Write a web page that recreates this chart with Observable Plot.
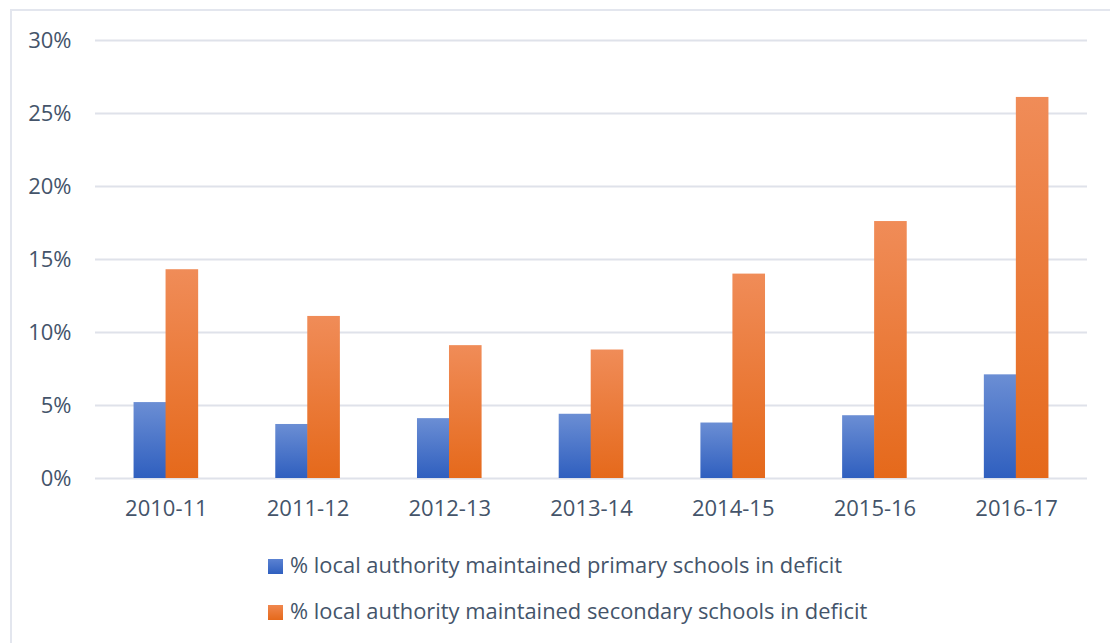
<!DOCTYPE html>
<html>
<head>
<meta charset="utf-8">
<script src="https://cdn.jsdelivr.net/npm/d3@7"></script>
<script src="https://cdn.jsdelivr.net/npm/@observablehq/plot@0.6"></script>
<style>
  html, body { margin: 0; padding: 0; background: #fff; }
  body { width: 1110px; height: 643px; overflow: hidden; position: relative; font-family: "Open Sans", Lato, sans-serif; color: #44546a; }
  #frame { position: absolute; left: 10px; top: 9px; width: 1200px; height: 700px; border: 2px solid #e3e6ee; box-sizing: border-box; }
  #chart { position: absolute; left: 0; top: 0; }
  #legend { position: absolute; left: 268px; top: 542px; font-size: 21.9px; line-height: 46px; }
  .item { display: flex; align-items: center; white-space: nowrap; }
  .sw { width: 15px; height: 15px; margin-right: 7px; margin-top: 3px; }
</style>
</head>
<body>
<div id="frame"></div>
<div id="chart"></div>
<div id="legend"></div>
<script>
const years = ["2010-11", "2011-12", "2012-13", "2013-14", "2014-15", "2015-16", "2016-17"];
const primary = [5.2, 3.7, 4.1, 4.4, 3.8, 4.3, 7.1];
const secondary = [14.3, 11.1, 9.1, 8.8, 14.0, 17.6, 26.1];
const seriesNames = [
  "% local authority maintained primary schools in deficit",
  "% local authority maintained secondary schools in deficit"
];
const yTicks = [0, 5, 10, 15, 20, 25, 30];

const dataP = years.map((y, i) => ({year: y, value: primary[i]}));
const dataS = years.map((y, i) => ({year: y, value: secondary[i]}));

const W = 1110, ML = 95, MR = 23;
const step = (W - ML - MR) / years.length;
const barW = 32;
const inset = (step - barW) / 2 - 0.3;

const chart = Plot.plot({
  width: W,
  height: 530,
  marginTop: 40,
  marginBottom: 52,
  marginLeft: ML,
  marginRight: MR,
  style: {fontFamily: "'Open Sans', Lato, sans-serif", fontSize: "22px", color: "#44546a", background: "transparent"},
  x: {domain: years, padding: 0, round: false, label: null, tickSize: 0, tickPadding: 22},
  y: {domain: [0, 30], ticks: yTicks, tickFormat: d => d + "%", label: null, tickSize: 0, tickPadding: 24},
  marks: [
    Plot.gridY(yTicks, {stroke: "#dfe2ea", strokeOpacity: 1, strokeWidth: 2}),
    Plot.barY(dataP, {x: "year", y: "value", fill: "url(#gradBlue)", insetLeft: inset, insetRight: inset, dx: -barW / 2}),
    Plot.barY(dataS, {x: "year", y: "value", fill: "url(#gradOrange)", insetLeft: inset, insetRight: inset, dx: barW / 2})
  ]
});

// gradient definitions for the bars
const ns = "http://www.w3.org/2000/svg";
const defs = document.createElementNS(ns, "defs");
function grad(id, top, bottom) {
  const g = document.createElementNS(ns, "linearGradient");
  g.setAttribute("id", id);
  g.setAttribute("x1", "0"); g.setAttribute("y1", "0");
  g.setAttribute("x2", "0"); g.setAttribute("y2", "1");
  [[0, top], [1, bottom]].forEach(([o, c]) => {
    const s = document.createElementNS(ns, "stop");
    s.setAttribute("offset", o);
    s.setAttribute("stop-color", c);
    g.appendChild(s);
  });
  defs.appendChild(g);
}
grad("gradBlue", "#6b8ed4", "#2f5fbf");
grad("gradOrange", "#f08c58", "#e5691b");
chart.insertBefore(defs, chart.firstChild);
document.getElementById("chart").appendChild(chart);

const legend = document.getElementById("legend");
const swColors = ["linear-gradient(#5b82d2,#2f5fbf)", "linear-gradient(#f0874e,#e5691b)"];
seriesNames.forEach((n, i) => {
  const d = document.createElement("div");
  d.className = "item";
  d.innerHTML = `<span class="sw" style="background:${swColors[i]}"></span><span>${n}</span>`;
  legend.appendChild(d);
});
</script>
</body>
</html>
